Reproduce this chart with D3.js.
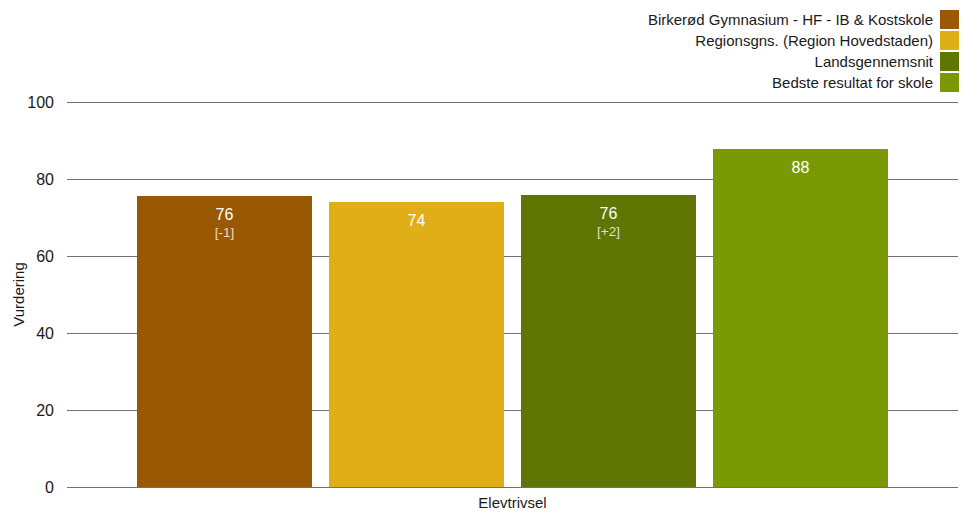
<!DOCTYPE html>
<html><head><meta charset="utf-8">
<script src="https://cdn.jsdelivr.net/npm/d3@7"></script>
<style>html,body{margin:0;padding:0;background:#fff}svg{display:block}</style>
</head><body>
<svg id="chart" width="965" height="514"></svg>
<script>
const categories = ["Elevtrivsel"];
const seriesNames = ["Birkerød Gymnasium - HF - IB & Kostskole","Regionsgns. (Region Hovedstaden)","Landsgennemsnit","Bedste resultat for skole"];
const seriesValues = [75.7, 73.9, 75.9, 87.9];
const valueLabels = ["76","74","76","88"];
const diffLabels = ["[-1]","","[+2]",""];
const colors = ["#9a5803","#e0ae16","#5f7603","#7b9904"];
const yTicks = [0,20,40,60,80,100];

(function(){
const font = "Liberation Sans, Arial, sans-serif";
const svg = d3.select("#chart");
const pL = 67, pR = 958, pT = 102, pB = 487;

const y = d3.scaleLinear().domain([0,100]).range([pB, pT]);
const x0 = d3.scaleBand().domain(categories).range([pL, pR]).paddingInner(0).paddingOuter(0.0932);
const x1 = d3.scaleBand().domain(seriesNames).range([0, x0.bandwidth()]).paddingInner(0.0885).paddingOuter(0);

const yAxis = d3.axisLeft(y).tickValues(yTicks).tickSize(-(pR-pL)).tickPadding(13);
const ga = svg.append("g").attr("transform",`translate(${pL},0)`).call(yAxis);
ga.select(".domain").remove();
ga.selectAll(".tick line").attr("stroke","#707070").attr("stroke-width",1).attr("shape-rendering","crispEdges");
ga.selectAll(".tick text").attr("font-family",font).attr("font-size",16).attr("fill","#1a1a1a");

const g = svg.append("g");
categories.forEach(cat => {
  seriesNames.forEach((s,i) => {
    const bx = x0(cat) + x1(s), bw = x1.bandwidth();
    g.append("rect").attr("x",bx).attr("y",y(seriesValues[i])).attr("width",bw)
      .attr("height",y(0)-y(seriesValues[i])).attr("fill",colors[i]).attr("shape-rendering","crispEdges");
    g.append("text").attr("x",bx+bw/2).attr("y",y(seriesValues[i])+24).attr("text-anchor","middle")
      .attr("font-family",font).attr("font-size",16).attr("fill","#fff").text(valueLabels[i]);
    if (diffLabels[i]) g.append("text").attr("x",bx+bw/2).attr("y",y(seriesValues[i])+41).attr("text-anchor","middle")
      .attr("font-family",font).attr("font-size",13.5).attr("fill","#fff").attr("fill-opacity",0.8).text(diffLabels[i]);
  });
});

const xAxis = d3.axisBottom(x0).tickSize(0).tickPadding(10);
const gx = svg.append("g").attr("transform",`translate(0,${pB})`).call(xAxis);
gx.select(".domain").remove();
gx.selectAll(".tick text").attr("font-family",font).attr("font-size",15).attr("fill","#1a1a1a");

svg.append("text").attr("transform",`translate(24,${(pT+pB)/2}) rotate(-90)`).attr("text-anchor","middle")
  .attr("font-family",font).attr("font-size",15).attr("fill","#1a1a1a").text("Vurdering");

const lg = svg.append("g");
seriesNames.forEach((s,i) => {
  const yy = 10 + i*21;
  lg.append("rect").attr("x",940).attr("y",yy).attr("width",19).attr("height",19).attr("fill",colors[i]);
  lg.append("text").attr("x",933).attr("y",yy+15).attr("text-anchor","end")
    .attr("font-family",font).attr("font-size",15).attr("fill","#1a1a1a").text(s);
});
})();
</script>
</body></html>
